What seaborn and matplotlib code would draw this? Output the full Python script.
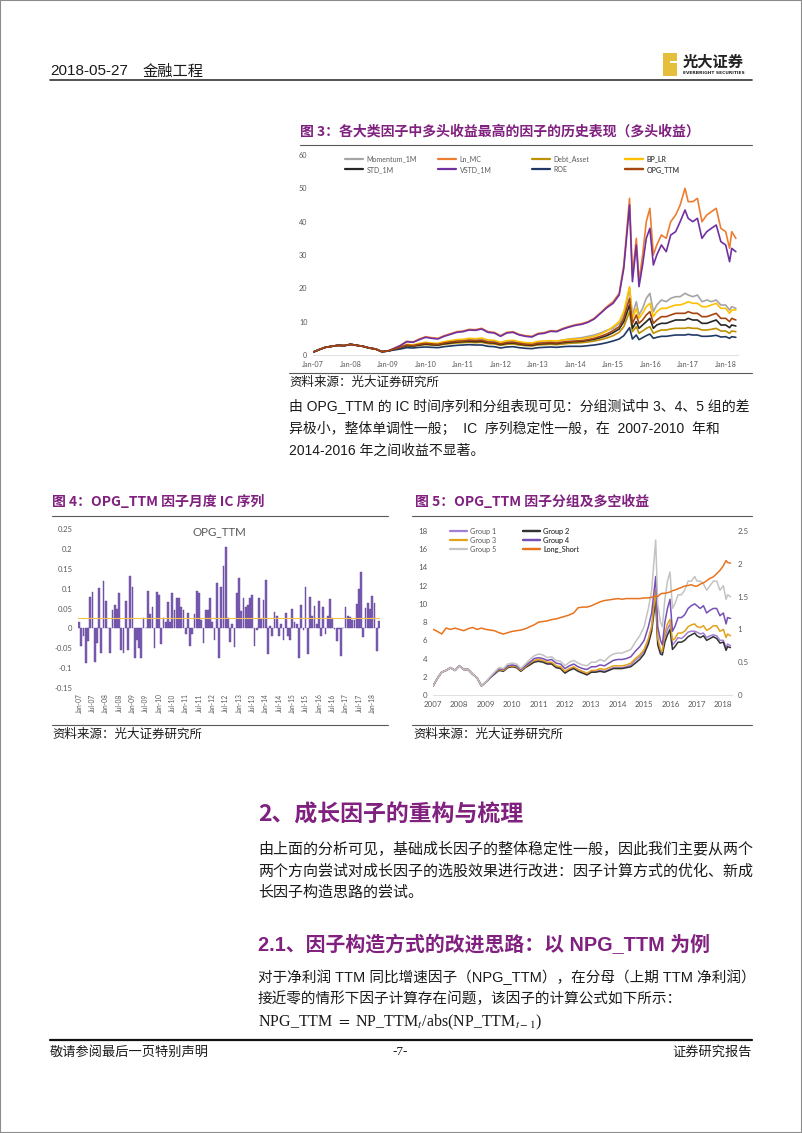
import numpy as np
import pandas as pd
import matplotlib
matplotlib.use("Agg")
import matplotlib.pyplot as plt
import matplotlib.dates as mdates
from matplotlib.lines import Line2D
from matplotlib.patches import Rectangle
from matplotlib.ticker import FuncFormatter
import seaborn as sns

W, H = 802, 1133

#############################
### data ####
#############################
dates = ['2007-01-04', '2007-03-01', '2007-05-01', '2007-07-01', '2007-09-01', '2007-11-01',
         '2008-01-01', '2008-03-01', '2008-05-01', '2008-07-01', '2008-09-01', '2008-11-01',
         '2009-01-01', '2009-03-01', '2009-05-01', '2009-07-01', '2009-09-01', '2009-11-01',
         '2010-01-01', '2010-03-01', '2010-05-01', '2010-07-01', '2010-09-01', '2010-11-01',
         '2011-01-01', '2011-03-01', '2011-05-01', '2011-07-01', '2011-09-01', '2011-11-01',
         '2012-01-01', '2012-03-01', '2012-05-01', '2012-07-01', '2012-09-01', '2012-11-01',
         '2013-01-01', '2013-03-01', '2013-05-01', '2013-07-01', '2013-09-01', '2013-11-01',
         '2014-01-01', '2014-03-01', '2014-05-01', '2014-07-01', '2014-09-01', '2014-11-01',
         '2015-01-01', '2015-03-01', '2015-04-15', '2015-06-10', '2015-07-08', '2015-08-15',
         '2015-09-10', '2015-10-15', '2015-11-20', '2015-12-25',
         '2016-01-28', '2016-03-01', '2016-04-15', '2016-06-01', '2016-07-15', '2016-09-01',
         '2016-10-15', '2016-12-01',
         '2017-01-01', '2017-02-15', '2017-04-01', '2017-05-15', '2017-07-01', '2017-08-15',
         '2017-10-01', '2017-11-15',
         '2018-01-01', '2018-02-08', '2018-03-01', '2018-04-10']

# fig 3: long-only cumulative return of the best factor in each category
early3 = [0.9, 1.6, 2.3, 2.6, 2.9, 2.8, 3.2, 2.9, 2.6, 2.1, 1.8, 1.0, 1.2]
momentum_1m = early3 + [1.8, 2.3, 3.0, 2.9, 3.3,
                        3.6, 3.4, 3.3, 3.7, 4.0, 4.3, 4.4, 4.6, 4.5, 4.7, 4.2, 4.1,
                        3.5, 3.9, 4.0, 3.7, 3.4, 3.3, 3.8, 3.9, 4.1, 4.1, 4.5, 4.8,
                        5.0, 5.2, 5.6, 6.0, 6.6, 7.4,
                        8.0, 9.5, 12.0, 20.0, 12.0, 16.0, 12.0, 14.0, 17.0, 18.5,
                        13.0, 15.0, 16.5, 16.0, 17.0, 17.5, 17.5, 18.5,
                        18.0, 17.5, 18.0, 16.0, 16.5, 16.0, 16.5, 15.0,
                        15.0, 13.5, 14.5, 14.0]
ln_mc = early3 + [2.0, 2.9, 4.1, 3.9, 4.8,
                  5.5, 5.2, 5.0, 5.8, 6.4, 7.0, 7.2, 7.7, 7.6, 8.0, 7.0, 6.8,
                  5.8, 6.8, 7.0, 6.2, 5.8, 5.6, 6.5, 6.7, 7.3, 7.2, 8.0, 8.6,
                  9.1, 9.4, 10.0, 11.0, 12.7, 14.5,
                  16.0, 18.5, 27.0, 47.0, 24.0, 35.0, 22.0, 30.0, 40.0, 44.0,
                  30.0, 33.0, 36.0, 35.0, 40.0, 42.0, 45.0, 50.0,
                  46.0, 46.0, 47.0, 40.0, 42.0, 43.0, 44.0, 38.0,
                  37.0, 32.0, 37.0, 35.0]
debt_asset = early3 + [1.7, 2.1, 2.7, 2.6, 2.9,
                       3.1, 3.0, 2.9, 3.2, 3.4, 3.6, 3.7, 3.8, 3.7, 3.8, 3.4, 3.3,
                       2.9, 3.2, 3.3, 3.0, 2.8, 2.7, 3.0, 3.1, 3.2, 3.1, 3.3, 3.5,
                       3.6, 3.7, 3.9, 4.2, 4.6, 5.1,
                       5.8, 6.8, 8.5, 13.0, 7.0, 8.5, 6.5, 7.2, 8.0, 8.5,
                       6.5, 7.0, 7.5, 7.5, 7.8, 8.0, 8.0, 8.0,
                       8.2, 8.0, 8.0, 7.5, 7.5, 7.7, 8.0, 7.2,
                       7.2, 6.5, 7.2, 7.0]
bp_lr = early3 + [1.8, 2.4, 3.2, 3.0, 3.5,
                  3.8, 3.6, 3.5, 4.0, 4.3, 4.6, 4.7, 5.0, 4.9, 5.1, 4.5, 4.4,
                  3.8, 4.3, 4.4, 4.0, 3.7, 3.6, 4.1, 4.2, 4.3, 4.2, 4.5, 4.7,
                  4.8, 4.9, 5.2, 5.6, 6.3, 7.2,
                  8.5, 10.0, 13.0, 20.5, 11.0, 14.0, 11.0, 12.5, 14.5, 15.5,
                  11.5, 13.0, 14.0, 14.0, 14.5, 15.0, 15.0, 15.5,
                  16.0, 15.5, 15.5, 14.5, 14.5, 15.0, 15.5, 14.0,
                  14.0, 12.5, 13.5, 13.5]
std_1m = early3 + [1.7, 2.2, 2.8, 2.7, 3.0,
                   3.3, 3.1, 3.0, 3.4, 3.6, 3.9, 4.0, 4.1, 4.0, 4.1, 3.7, 3.6,
                   3.1, 3.5, 3.6, 3.3, 3.0, 2.9, 3.3, 3.4, 3.5, 3.4, 3.7, 3.9,
                   4.0, 4.1, 4.4, 4.7, 5.2, 5.8,
                   6.7, 7.8, 10.0, 15.0, 8.0, 10.0, 8.0, 9.0, 10.0, 11.0,
                   8.0, 9.0, 9.5, 9.5, 10.0, 10.5, 10.5, 10.5,
                   11.0, 10.5, 10.5, 9.5, 9.5, 10.0, 10.5, 9.0,
                   9.0, 8.2, 9.0, 8.7]
vstd_1m = early3 + [2.0, 2.8, 4.0, 3.8, 4.6,
                    5.3, 5.0, 4.8, 5.6, 6.2, 6.8, 7.0, 7.5, 7.4, 7.8, 6.8, 6.6,
                    5.6, 6.6, 6.8, 6.0, 5.6, 5.4, 6.3, 6.5, 7.1, 7.0, 7.8, 8.4,
                    8.9, 9.2, 9.8, 10.8, 12.5, 14.2,
                    15.5, 18.0, 26.0, 45.0, 22.0, 33.0, 20.5, 27.0, 35.0, 38.0,
                    27.0, 30.0, 33.0, 31.0, 36.0, 37.0, 40.0, 43.5,
                    41.0, 40.0, 41.0, 35.0, 37.0, 38.0, 39.0, 34.0,
                    33.0, 28.0, 32.0, 31.0]
roe = early3 + [1.5, 1.8, 2.2, 2.1, 2.3,
                2.4, 2.3, 2.2, 2.5, 2.7, 2.9, 3.0, 3.1, 3.0, 3.0, 2.6, 2.5,
                2.1, 2.4, 2.5, 2.2, 2.0, 1.9, 2.2, 2.3, 2.4, 2.3, 2.5, 2.6,
                2.6, 2.6, 2.8, 3.0, 3.3, 3.7,
                4.2, 4.8, 5.8, 8.2, 4.8, 6.0, 4.6, 5.2, 5.8, 6.3,
                5.0, 5.3, 5.6, 5.6, 5.8, 6.0, 6.0, 6.0,
                6.2, 6.0, 6.0, 5.6, 5.6, 5.7, 5.9, 5.4,
                5.5, 5.0, 5.5, 5.3]
opg_ttm = early3 + [1.8, 2.3, 3.0, 2.8, 3.2,
                    3.5, 3.3, 3.2, 3.6, 3.9, 4.1, 4.2, 4.4, 4.3, 4.4, 3.9, 3.8,
                    3.3, 3.7, 3.8, 3.5, 3.2, 3.1, 3.5, 3.6, 3.7, 3.6, 3.9, 4.1,
                    4.2, 4.3, 4.6, 5.0, 5.6, 6.3,
                    7.3, 8.5, 11.0, 17.0, 9.5, 12.0, 9.5, 10.5, 12.0, 13.0,
                    9.5, 10.5, 11.5, 11.5, 12.0, 12.5, 12.5, 12.5,
                    13.0, 12.5, 12.5, 11.5, 11.5, 12.0, 12.5, 11.0,
                    11.0, 10.0, 11.0, 10.5]

# fig 4: monthly IC of OPG_TTM, Jan-07 .. Apr-18
ic_values = [0.015, -0.045, -0.018, -0.088, -0.032, 0.078, 0.092, -0.085, -0.037, 0.102, -0.062, 0.120,
             0.070, 0.002, -0.062, 0.045, 0.060, 0.050, 0.088, -0.055, -0.062, 0.070, -0.055, 0.132,
             0.103, -0.075, -0.030, -0.050, -0.075, 0.027, 0.002, 0.095, 0.035, 0.055, -0.050, 0.092,
             0.085, -0.040, 0.025, 0.015, 0.067, 0.015, 0.090, 0.045, 0.077, 0.077, 0.055, 0.047,
             -0.015, 0.038, -0.045, -0.015, 0.035, 0.095, 0.088, 0.022, -0.038, 0.045, 0.045, 0.077,
             0.017, -0.030, 0.115, -0.075, 0.105, 0.157, 0.205, 0.025, -0.035, 0.012, -0.048, 0.090,
             0.127, 0.044, 0.077, 0.055, 0.060, 0.077, 0.083, -0.045, -0.005, 0.077, 0.023, 0.072,
             0.122, -0.065, 0.005, -0.020, 0.040, 0.030, -0.020, 0.010, -0.030, 0.038, -0.020, -0.030,
             0.050, 0.017, 0.010, -0.075, 0.060, -0.005, 0.105, -0.065, 0.080, 0.030, 0.057, 0.010,
             0.070, -0.018, 0.055, -0.015, 0.030, 0.075, 0.025, -0.002, -0.032, -0.002, -0.070, 0.002,
             0.053, 0.030, 0.028, 0.022, 0.022, 0.062, 0.100, 0.143, -0.022, 0.052, 0.064, 0.050,
             0.082, 0.065, -0.058, 0.018]
ic_mean = 0.027
ic_ticks = [-0.15, -0.1, -0.05, 0, 0.05, 0.1, 0.15, 0.2, 0.25]

# fig 5: OPG_TTM quintile groups + long/short
early5 = [1.0, 1.8, 2.5, 2.7, 3.0, 2.7, 3.2, 2.8, 2.8, 2.3, 1.9, 1.0, 1.4]
group1 = early5 + [1.9, 2.3, 2.8, 2.7, 3.1,
                   3.2, 3.1, 2.7, 3.1, 3.4, 3.7, 3.8, 3.7, 3.5, 3.5, 3.1, 3.0,
                   2.5, 2.8, 3.0, 2.7, 2.5, 2.3, 2.6, 2.6, 2.7, 2.6, 2.8, 3.0,
                   3.0, 3.0, 3.1, 3.3, 3.8, 4.2,
                   4.8, 6.0, 7.5, 11.3, 6.0, 4.8, 4.6, 6.3, 7.2, 7.8,
                   5.5, 5.8, 6.3, 6.2, 6.5, 6.9, 7.0, 7.0,
                   6.9, 6.7, 6.8, 6.3, 6.5, 6.6, 6.5, 6.0,
                   6.0, 5.2, 5.6, 5.4]
group2 = early5 + [1.9, 2.3, 2.7, 2.6, 3.0,
                   3.1, 3.0, 2.6, 3.0, 3.3, 3.6, 3.7, 3.6, 3.4, 3.4, 3.0, 2.9,
                   2.4, 2.7, 2.9, 2.6, 2.4, 2.2, 2.5, 2.5, 2.6, 2.5, 2.7, 2.9,
                   2.9, 2.9, 3.0, 3.1, 3.5, 3.9,
                   4.5, 5.6, 7.0, 10.5, 5.5, 4.5, 4.4, 5.8, 6.6, 7.2,
                   5.0, 5.3, 5.8, 5.8, 6.0, 6.4, 6.6, 6.8,
                   6.5, 6.3, 6.5, 6.0, 6.2, 6.4, 6.2, 5.7,
                   5.8, 4.9, 5.3, 5.2]
group3 = early5 + [1.9, 2.4, 2.8, 2.7, 3.1,
                   3.2, 3.1, 2.7, 3.1, 3.5, 3.8, 3.9, 3.8, 3.6, 3.6, 3.2, 3.1,
                   2.6, 2.9, 3.1, 2.8, 2.6, 2.4, 2.7, 2.7, 2.9, 2.8, 3.0, 3.2,
                   3.2, 3.2, 3.3, 3.5, 4.0, 4.4,
                   5.0, 6.2, 7.5, 11.5, 6.2, 5.0, 4.8, 6.8, 7.8, 8.3,
                   6.0, 6.2, 6.8, 6.8, 7.0, 7.5, 7.7, 7.8,
                   7.5, 7.4, 7.6, 7.1, 7.3, 7.6, 7.6, 7.0,
                   7.2, 6.3, 6.7, 6.5]
group4 = early5 + [1.9, 2.4, 2.9, 2.8, 3.2,
                   3.3, 3.2, 2.8, 3.2, 3.6, 4.0, 4.1, 4.0, 3.8, 3.9, 3.5, 3.4,
                   2.9, 3.2, 3.4, 3.1, 2.9, 2.8, 3.1, 3.1, 3.3, 3.2, 3.5, 3.8,
                   3.9, 3.9, 4.0, 4.2, 4.8, 5.3,
                   6.0, 7.5, 9.0, 13.0, 7.5, 6.0, 5.5, 8.0, 9.5, 10.5,
                   7.0, 7.5, 8.5, 8.5, 8.8, 9.5, 9.8, 10.0,
                   9.8, 9.5, 9.8, 9.0, 9.3, 9.5, 9.5, 8.7,
                   9.0, 7.8, 8.5, 8.4]
group5 = early5 + [2.0, 2.5, 3.0, 2.9, 3.4,
                   3.5, 3.4, 2.9, 3.4, 3.9, 4.3, 4.5, 4.4, 4.1, 4.2, 3.8, 3.7,
                   3.2, 3.6, 3.8, 3.5, 3.3, 3.2, 3.6, 3.6, 3.9, 3.7, 4.2, 4.5,
                   4.6, 4.6, 4.8, 5.0, 5.8, 6.5,
                   7.5, 9.5, 11.5, 17.0, 10.0, 8.0, 7.5, 10.5, 12.5, 13.5,
                   9.5, 10.0, 11.0, 11.0, 11.5, 12.5, 12.5, 13.0,
                   12.5, 12.5, 12.2, 11.5, 12.0, 12.5, 12.5, 11.5,
                   12.0, 10.5, 11.0, 10.8]
long_short = [1.00, 0.97, 0.93, 1.02, 1.00, 1.02, 1.00, 0.98, 1.01, 1.03, 1.00, 1.02, 1.00,
              0.99, 0.98, 0.95, 0.93, 0.95,
              0.97, 0.98, 0.99, 1.01, 1.04, 1.07, 1.11, 1.12, 1.13, 1.15, 1.16, 1.18,
              1.20, 1.22, 1.25, 1.33, 1.34, 1.34, 1.36, 1.39, 1.42, 1.44, 1.45, 1.46,
              1.47, 1.46, 1.47, 1.47, 1.47, 1.47,
              1.48, 1.48, 1.49, 1.51, 1.50, 1.54, 1.55, 1.55, 1.56, 1.57,
              1.59, 1.60, 1.62, 1.64, 1.66, 1.67, 1.68, 1.66,
              1.66, 1.69, 1.71, 1.74, 1.78, 1.80, 1.85, 1.90,
              1.97, 2.05, 2.02, 2.01]

#############################
### style ###################
#############################
sns.set_theme(style="white")
plt.rcParams['font.family'] = ['Lato', 'Noto Sans CJK SC', 'DejaVu Sans']
plt.rcParams['axes.unicode_minus'] = False
plt.rcParams['mathtext.fontset'] = 'stix'

PURPLE = '#80207F'
TXT = '#1A1A1A'
TICK = '#595959'
CJK = ['Noto Sans CJK SC', 'DejaVu Sans']
BODY = ['Liberation Sans', 'Noto Sans CJK SC', 'DejaVu Sans']

fig = plt.figure(figsize=(W / 100, H / 100), dpi=100)
fig.patch.set_facecolor('white')


def fbox(l, t, r, b):
    return [l / W, 1 - b / H, (r - l) / W, (b - t) / H]


def ftext(x, y, s, **kw):
    kw.setdefault('va', 'center')
    kw.setdefault('ha', 'left')
    kw.setdefault('color', TXT)
    fig.text(x / W, 1 - y / H, s, **kw)


def hline(x1, x2, y, color='#595959', lw=0.8):
    fig.add_artist(Line2D([x1 / W, x2 / W], [1 - y / H, 1 - y / H], color=color, lw=lw))


def col_legend(ax, items, x, y, fs, hl, sp):
    hs = [Line2D([], [], color=c, lw=1.6) for _, c in items]
    leg = ax.legend(hs, [n for n, _ in items], loc='upper left',
                    bbox_to_anchor=(x / W, 1 - y / H), bbox_transform=fig.transFigure,
                    frameon=False, fontsize=fs, handlelength=hl, handletextpad=0.5,
                    borderpad=0, borderaxespad=0, labelspacing=sp)
    for t in leg.get_texts():
        t.set_color(TICK)
    ax.add_artist(leg)


def clean(ax, bottom=None):
    for s in ax.spines.values():
        s.set_visible(False)
    if bottom:
        ax.spines['bottom'].set_visible(True)
        ax.spines['bottom'].set_color(bottom)
        ax.spines['bottom'].set_linewidth(0.6)
    ax.set_xlabel('')
    ax.set_ylabel('')
    ax.grid(False)


d = pd.to_datetime(dates)

# page frame, header, footer
fig.add_artist(Rectangle((0, 0), 1, 1, transform=fig.transFigure, fill=False, ec='#8C8C8C', lw=1.5))
ftext(50, 71, '2018-05-27', fontsize=11, family=['Liberation Sans Narrow', 'Liberation Sans'])
ftext(143, 71, '金融工程', fontsize=11, family=CJK)
hline(50, 752, 80, color='#333333', lw=1.2)
fig.add_artist(Rectangle((663 / W, 1 - 76 / H), 14 / W, 23 / H, transform=fig.transFigure,
                         fc='#E5BE3C', ec='none'))
fig.add_artist(Rectangle((670 / W, 1 - 63 / H), 7 / W, 2 / H, transform=fig.transFigure,
                         fc='white', ec='none'))
ftext(683, 62, '光大证券', fontsize=11, fontweight='bold', family=CJK, color='#222222')
ftext(683, 73, 'EVERBRIGHT SECURITIES', fontsize=3.2, fontweight='bold', family=['DejaVu Sans'],
      color='#222222')

hline(50, 752, 1040, color='#111111', lw=1.6)
ftext(50, 1052, '敬请参阅最后一页特别声明', fontsize=9.5, family=CJK)
ftext(400, 1052, '-7-', fontsize=9.5, ha='center', family=['Liberation Serif'])
ftext(752, 1052, '证券研究报告', fontsize=9.5, ha='right', family=CJK)

#############################
### Fig 3 ###################
#############################
ftext(300, 132, '图 3：各大类因子中多头收益最高的因子的历史表现（多头收益）', fontsize=10,
      fontweight='bold', color=PURPLE, family=CJK)
hline(300, 752, 145)

series3 = [('Momentum_1M', momentum_1m, '#A5A5A5'),
           ('Ln_MC', ln_mc, '#ED7D31'),
           ('Debt_Asset', debt_asset, '#BF9000'),
           ('BP_LR', bp_lr, '#FFC000'),
           ('STD_1M', std_1m, '#262626'),
           ('VSTD_1M', vstd_1m, '#7030A0'),
           ('ROE', roe, '#1F3864'),
           ('OPG_TTM', opg_ttm, '#A5450F')]
colors3 = {n: c for n, _, c in series3}

ax3 = fig.add_axes(fbox(313, 155, 738, 355))
for name, vals, col in series3:
    sns.lineplot(x=d, y=vals, color=col, lw=1.2, ax=ax3, legend=False)
ax3.set_xlim(pd.Timestamp('2007-01-01'), pd.Timestamp('2018-05-01'))
ax3.set_ylim(0, 60)
ax3.set_yticks(range(0, 61, 10))
ax3.xaxis.set_major_locator(mdates.YearLocator())
ax3.xaxis.set_major_formatter(mdates.DateFormatter('%b-%y'))
ax3.tick_params(labelsize=5.2, colors=TICK, length=0, pad=4)
clean(ax3, bottom='#D9D9D9')

leg_cols3 = [(345, ['Momentum_1M', 'STD_1M']), (438, ['Ln_MC', 'VSTD_1M']),
             (532, ['Debt_Asset', 'ROE']), (625, ['BP_LR', 'OPG_TTM'])]
for x, names in leg_cols3:
    col_legend(ax3, [(n, colors3[n]) for n in names], x, 155, 5, 2.6, 0.55)

hline(289, 752, 373)
ftext(289, 382, '资料来源：光大证券研究所', fontsize=9, family=CJK)
para1 = ['由 OPG_TTM 的 IC 时间序列和分组表现可见：分组测试中 3、4、5 组的差',
         '异极小，整体单调性一般；  IC  序列稳定性一般，在  2007-2010  年和',
         '2014-2016 年之间收益不显著。']
for i, line in enumerate(para1):
    ftext(289, 407 + 22 * i, line, fontsize=10, family=BODY)

#############################
### Fig 4 ###################
#############################
ftext(52, 502, '图 4：OPG_TTM 因子月度 IC 序列', fontsize=10, fontweight='bold',
      color=PURPLE, family=CJK)
hline(52, 388, 516)
hline(52, 388, 725)
ftext(52, 734, '资料来源：光大证券研究所', fontsize=9, family=CJK)

months = pd.date_range('2007-01-01', periods=len(ic_values), freq='MS')
month_labels = list(months.strftime('%b-%y'))

ax4 = fig.add_axes(fbox(78, 529, 380, 688))
sns.barplot(x=month_labels, y=ic_values, color='#7D5FB6', saturation=1, width=0.8,
            errorbar=None, edgecolor='#5E4391', linewidth=0.3, ax=ax4)
ax4.axhline(ic_mean, color='#F2C14E', lw=0.8, zorder=3)
ax4.set_xlim(-0.5, len(ic_values) - 0.5)
ax4.set_ylim(-0.15, 0.25)
ax4.set_yticks(ic_ticks)
ax4.yaxis.set_major_formatter(FuncFormatter(lambda v, p: f'{v:g}'))
ax4.set_xticks(range(0, len(ic_values), 6))
ax4.set_xticklabels(month_labels[::6], rotation=90)
ax4.tick_params(axis='y', labelsize=5.5, colors=TICK, length=0, pad=4)
ax4.tick_params(axis='x', labelsize=4.8, colors=TICK, length=0, pad=4)
clean(ax4)
ftext(219, 532, 'OPG_TTM', fontsize=8.3, ha='center', color=TICK)

#############################
### Fig 5 ###################
#############################
ftext(415, 502, '图 5：OPG_TTM 因子分组及多空收益', fontsize=10, fontweight='bold',
      color=PURPLE, family=CJK)
hline(412, 752, 516)
hline(412, 752, 725)
ftext(413, 734, '资料来源：光大证券研究所', fontsize=9, family=CJK)

groups5 = [('Group 1', group1, '#A27FD6'),
           ('Group 2', group2, '#333333'),
           ('Group 3', group3, '#E3A21A'),
           ('Group 4', group4, '#7750B5'),
           ('Group 5', group5, '#C3C3C3')]
ls_color = '#E8731E'
colors5 = {n: c for n, _, c in groups5}
colors5['Long_Short'] = ls_color

ax5 = fig.add_axes(fbox(433, 531, 732, 695))
for name, vals, col in groups5:
    sns.lineplot(x=d, y=vals, color=col, lw=1.1, ax=ax5, legend=False)
ax5.set_xlim(pd.Timestamp('2007-01-01'), pd.Timestamp('2018-05-01'))
ax5.set_ylim(0, 18)
ax5.set_yticks(range(0, 19, 2))
ax5.xaxis.set_major_locator(mdates.YearLocator())
ax5.xaxis.set_major_formatter(mdates.DateFormatter('%Y'))
ax5.tick_params(labelsize=5.7, colors=TICK, length=0, pad=4)
clean(ax5, bottom='#D9D9D9')

ax5r = ax5.twinx()
sns.lineplot(x=d, y=long_short, color=ls_color, lw=1.1, ax=ax5r, legend=False)
ax5r.set_ylim(0, 2.5)
ax5r.set_yticks([0, 0.5, 1, 1.5, 2, 2.5])
ax5r.yaxis.set_major_formatter(FuncFormatter(lambda v, p: f'{v:g}'))
ax5r.tick_params(labelsize=5.7, colors=TICK, length=0, pad=4)
clean(ax5r)

leg_cols5 = [(450, ['Group 1', 'Group 3', 'Group 5']), (523, ['Group 2', 'Group 4', 'Long_Short'])]
for x, names in leg_cols5:
    col_legend(ax5r, [(n, colors5[n]) for n in names], x, 528, 5.2, 2.3, 0.25)

#############################
### Section 2 text ##########
#############################
ftext(258, 815, '2、成长因子的重构与梳理', fontsize=16.5, fontweight='bold', color=PURPLE, family=CJK)
para2 = ['由上面的分析可见，基础成长因子的整体稳定性一般，因此我们主要从两个',
         '两个方向尝试对成长因子的选股效果进行改进：因子计算方式的优化、新成',
         '长因子构造思路的尝试。']
for i, line in enumerate(para2):
    ftext(258, 849 + 22 * i, line, fontsize=10.8, family=CJK)

ftext(258, 945, '2.1、因子构造方式的改进思路：以 NPG_TTM 为例', fontsize=14.3, fontweight='bold',
      color=PURPLE, family=['Liberation Sans', 'Noto Sans CJK SC'])
para3 = ['对于净利润 TTM 同比增速因子（NPG_TTM），在分母（上期 TTM 净利润）',
         '接近零的情形下因子计算存在问题，该因子的计算公式如下所示：']
for i, line in enumerate(para3):
    ftext(258, 977 + 22 * i, line, fontsize=10.5, family=BODY)
ftext(258, 1022, r'NPG_TTM $=$ NP_TTM$_t$/abs(NP_TTM$_{t-1}$)', fontsize=11.5,
      family=['Liberation Serif'])

fig.savefig('out.png', dpi=100, facecolor='white')
